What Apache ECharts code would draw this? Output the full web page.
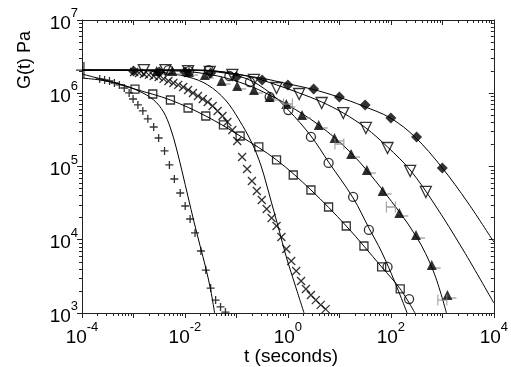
<!DOCTYPE html>
<html><head><meta charset="utf-8">
<script src="https://cdn.jsdelivr.net/npm/echarts@6/dist/echarts.min.js"></script>
<style>html,body{margin:0;padding:0;background:#fff}#c{width:511px;height:367px}</style>
</head><body><div id="c"></div>
<script>
// ---------- data (t in seconds, G in Pa) ----------
const plusT = [2.21e-4,2.75e-4,3.42e-4,4.26e-4,5.31e-4,6.62e-4,8.24e-4,9.82e-4,1.22e-3,1.52e-3,1.90e-3,2.47e-3,3.08e-3,4.01e-3,4.99e-3,6.22e-3,8.09e-3,1.01e-2,1.26e-2,1.57e-2,2.04e-2,2.54e-2,3.16e-2,3.94e-2,4.91e-2,6.11e-2];
const plusG = [1.57e6,1.52e6,1.47e6,1.38e6,1.30e6,1.18e6,1.01e6,8.35e5,6.92e5,5.73e5,4.47e5,3.46e5,2.45e5,1.63e5,1.05e5,6.75e4,4.35e4,2.89e4,1.92e4,1.24e4,7.02e3,3.86e3,2.19e3,1.50e3,1.21e3,1.03e3];
const bigPlusT = [1.09e-4];
const bigPlusG = [2.07e6];
const crossT = [1.03e-3,1.28e-3,1.59e-3,1.99e-3,2.47e-3,3.08e-3,3.84e-3,4.78e-3,5.96e-3,7.41e-3,9.25e-3,1.15e-2,1.43e-2,1.79e-2,2.22e-2,2.77e-2,3.45e-2,4.31e-2,5.36e-2,6.67e-2,8.32e-2,0.1035,0.129,0.161,0.200,0.249,0.311,0.387,0.482,0.601,0.748,0.931,1.16,1.45,1.80,2.24,2.80,3.48,4.34,5.41];
const crossG = [1.95e6,1.89e6,1.83e6,1.78e6,1.72e6,1.67e6,1.57e6,1.47e6,1.38e6,1.30e6,1.22e6,1.11e6,1.01e6,9.16e5,8.35e5,7.60e5,6.70e5,5.73e5,4.89e5,4.05e5,3.15e5,2.23e5,1.35e5,9.25e4,6.34e4,4.63e4,3.49e4,2.63e4,1.98e4,1.54e4,1.09e4,7.48e3,5.13e3,3.74e3,2.74e3,2.13e3,1.76e3,1.50e3,1.29e3,1.13e3];
const squareT = [1.07e-3,2.37e-3,5.22e-3,1.15e-2,2.54e-2,5.60e-2,0.118,0.272,0.601,1.27,2.80,6.17,13.6,30.0,66.2,152];
const squareG = [1.14e6,9.77e5,8.09e5,6.29e5,4.89e5,3.69e5,2.61e5,1.85e5,1.23e5,7.66e4,4.78e4,2.80e4,1.54e4,8.22e3,4.25e3,2.13e3];
const circleT = [4.77e-3,1.20e-2,2.90e-2,7.29e-2,0.183,0.442,1.02,2.80,6.17,18.5,37.4,86.1,226];
const circleG = [2.07e6,2.01e6,2.07e6,1.72e6,1.42e6,8.9e5,5.9e5,2.53e5,1.12e5,3.84e4,1.36e4,4.25e3,1.55e3];
const triUpT = [2.82e-3,5.70e-3,1.20e-2,2.43e-2,5.13e-2,0.1035,0.219,0.442,0.931,1.88,3.97,8.04,16.9,34.2,69.2,146,308,622,1256];
const triUpG = [2.01e6,2.01e6,1.95e6,1.78e6,1.47e6,1.26e6,1.11e6,8.9e5,7.13e5,5.05e5,3.69e5,2.45e5,1.48e5,8.95e4,4.63e4,2.32e4,1.16e4,4.52e3,1.76e3];
const triDownT = [1.59e-3,4.19e-3,1.15e-2,3.03e-2,8.32e-2,0.219,0.601,1.65,4.53,11.9,32.7,86.1,237,478];
const triDownG = [2.07e6,2.07e6,2.01e6,1.95e6,1.78e6,1.52e6,1.18e6,9.77e5,7.36e5,5.37e5,3.36e5,1.79e5,8.69e4,4.49e4];
const diamondT = [1e-3,3.16e-3,1e-2,3.16e-2,0.1,0.316,1,3.16,10,31.6,100,316,1000];
const diamondG = [2.01e6,1.95e6,1.95e6,1.89e6,1.67e6,1.52e6,1.30e6,1.14e6,8.9e5,6.92e5,4.59e5,2.53e5,9.55e4];
const hT = [1,10,100,1000];
const hG = [7.13e5,2.03e5,2.80e4,1.50e3];

// fitted curves
const fitPlusT = [1e-4,2.21e-4,5.31e-4,1.28e-3,2.47e-3,3.84e-3,5.22e-3,6.79e-3,8.85e-3,1.15e-2,1.50e-2,1.95e-2,2.54e-2,3.16e-2,3.77e-2];
const fitPlusG = [1.61e6,1.52e6,1.34e6,1.07e6,8.09e5,5.55e5,3.36e5,1.79e5,8.41e4,3.84e4,1.75e4,8.47e3,4.11e3,2.06e3,1e3];
const fitSquareT = [1e-4,3.27e-4,1.07e-3,5.22e-3,2.54e-2,0.118,0.601,2.80,13.6,66.2,152,294];
const fitSquareG = [1.83e6,1.47e6,1.14e6,8.09e5,4.89e5,2.61e5,1.23e5,4.78e4,1.54e4,4.25e3,2.13e3,1e3];
const fitCrossT = [1e-4,8.24e-4,3.08e-3,1.15e-2,2.77e-2,6.11e-2,0.113,0.200,0.297,0.387,0.482,0.656,0.931,1.38,2.06];
const fitCrossG = [2.07e6,2.07e6,1.95e6,1.67e6,1.30e6,8.09e5,4.32e5,2.09e5,1.05e5,5.58e4,3.18e4,1.45e4,5.82e3,2.41e3,1e3];
const fitCircleT = [1e-4,7.41e-3,4.31e-2,0.161,0.442,1.02,2.80,6.17,18.5,37.4,66.2,117,207];
const fitCircleG = [2.07e6,2.07e6,1.95e6,1.57e6,1.02e6,5.90e5,2.61e5,1.15e5,3.72e4,1.45e4,6.81e3,2.74e3,1e3];
const fitTriUpT = [1e-4,7.41e-3,4.31e-2,0.161,0.442,0.931,3.97,16.9,69.2,308,679,1202];
const fitTriUpG = [2.07e6,2.01e6,1.72e6,1.30e6,9.46e5,7.13e5,3.69e5,1.53e5,4.78e4,1.12e4,3.63e3,1e3];
const fitTriDownT = [1e-4,1.79e-2,0.161,0.601,1.65,4.53,11.9,32.7,86.1,237,679,2542,1e4];
const fitTriDownG = [2.07e6,2.07e6,1.72e6,1.30e6,1.01e6,7.60e5,5.37e5,3.36e5,1.85e5,8.95e4,3.18e4,7.24e3,1.37e3];
const fitDiamondT = [1e-4,1.79e-2,0.297,1.02,2.92,9.57,28.7,98.2,294,966,3162,1e4];
const fitDiamondG = [2.07e6,2.07e6,1.61e6,1.34e6,1.14e6,8.9e5,6.70e5,4.59e5,2.53e5,9.84e4,3.18e4,9.31e3];

const xLabelExps = [-4,-2,0,2,4];
const xTitle = 't (seconds)';
const yTitle = 'G(t) Pa';

// ---------- chart ----------
const FONT = '"Liberation Sans", Arial, sans-serif';
const zip = (a,b) => a.map((v,i)=>[v,b[i]]);
const rich = {
  b:{fontSize:19,fontFamily:FONT,color:'#000',lineHeight:26,verticalAlign:'bottom'},
  s:{fontSize:13,fontFamily:FONT,color:'#000',lineHeight:13,verticalAlign:'top'}
};
const expOf = v => Math.round(Math.log10(v));
const lineSer = (t,g) => ({type:'line',data:zip(t,g),showSymbol:false,smooth:0.35,silent:true,
  lineStyle:{color:'#000',width:1},z:2});
const open = {color:'rgba(0,0,0,0)',borderColor:'#000',borderWidth:1.3};
const axisCommon = {type:'log',logBase:10,axisLine:{lineStyle:{color:'#222',width:1}},splitLine:{show:false},
  minorTick:{show:true,splitNumber:9,length:3,lineStyle:{color:'#222'}},axisTick:{length:5,lineStyle:{color:'#222'}}};

const chart = echarts.init(document.getElementById('c'),null,{renderer:'canvas'});
chart.setOption({
  animation:false,
  grid:{left:82,right:10,top:20,bottom:54,containLabel:false},
  xAxis:[
    Object.assign({},axisCommon,{min:1e-4,max:1e4,splitNumber:8,position:'bottom',
      axisLabel:{margin:8,rich,formatter:v=>{const e=expOf(v);return xLabelExps.includes(e)?'{b|10}{s|'+e+'}':'';}}}),
    Object.assign({},axisCommon,{min:1e-4,max:1e4,splitNumber:8,position:'top',axisLabel:{show:false},
      axisTick:{inside:true,length:5,lineStyle:{color:'#222'}}})
  ],
  yAxis:[
    Object.assign({},axisCommon,{min:1e3,max:1e7,splitNumber:4,position:'left',
      axisLabel:{margin:4,rich,formatter:v=>'{b|10}{s|'+expOf(v)+'}'}}),
    Object.assign({},axisCommon,{min:1e3,max:1e7,splitNumber:4,position:'right',axisLabel:{show:false},
      axisTick:{inside:true,length:5,lineStyle:{color:'#222'}}})
  ],
  graphic:[
    {type:'text',x:291,y:357,style:{text:xTitle,fontSize:19,fontFamily:FONT,fill:'#000',textAlign:'center',textVerticalAlign:'middle'}},
    {type:'text',x:25,y:60,rotation:Math.PI/2,style:{text:yTitle,fontSize:18,fontFamily:FONT,fill:'#000',textAlign:'center',textVerticalAlign:'middle'}}
  ],
  series:[
    lineSer(fitPlusT,fitPlusG),lineSer(fitSquareT,fitSquareG),lineSer(fitCrossT,fitCrossG),
    lineSer(fitCircleT,fitCircleG),lineSer(fitTriUpT,fitTriUpG),lineSer(fitTriDownT,fitTriDownG),
    lineSer(fitDiamondT,fitDiamondG),
    {type:'scatter',data:zip(plusT,plusG),symbol:'path://M5,0L5,10M0,5L10,5',symbolSize:8,itemStyle:open,z:3},
    {type:'scatter',data:zip(bigPlusT,bigPlusG),symbol:'path://M5,0L5,10M0,5L10,5',symbolSize:16,itemStyle:open,z:3},
    {type:'scatter',data:zip(crossT,crossG),symbol:'path://M0,0L10,10M10,0L0,10',symbolSize:8,itemStyle:open,z:3},
    {type:'scatter',data:zip(squareT,squareG),symbol:'rect',symbolSize:8,itemStyle:open,z:3},
    {type:'scatter',data:zip(circleT,circleG),symbol:'circle',symbolSize:9,itemStyle:open,z:3},
    {type:'scatter',data:zip(triUpT,triUpG),symbol:'rect',symbolSize:[12,1.5],symbolOffset:[3,3],itemStyle:{color:'#999'},z:3},
    {type:'scatter',data:zip(triUpT,triUpG),symbol:'triangle',symbolSize:10,itemStyle:{color:'#000'},z:4},
    {type:'scatter',data:zip(triDownT,triDownG),symbol:'triangle',symbolRotate:180,symbolSize:11,itemStyle:open,z:4},
    {type:'scatter',data:zip(diamondT,diamondG),symbol:'diamond',symbolSize:11,itemStyle:{color:'#000'},z:4},
    {type:'scatter',data:zip(hT,hG),symbol:'path://M0,0L0,10M8,0L8,10M0,5L8,5',symbolSize:[9,11],itemStyle:{color:'rgba(0,0,0,0)',borderColor:'#888',borderWidth:1.2},z:4}
  ]
});
</script></body></html>
